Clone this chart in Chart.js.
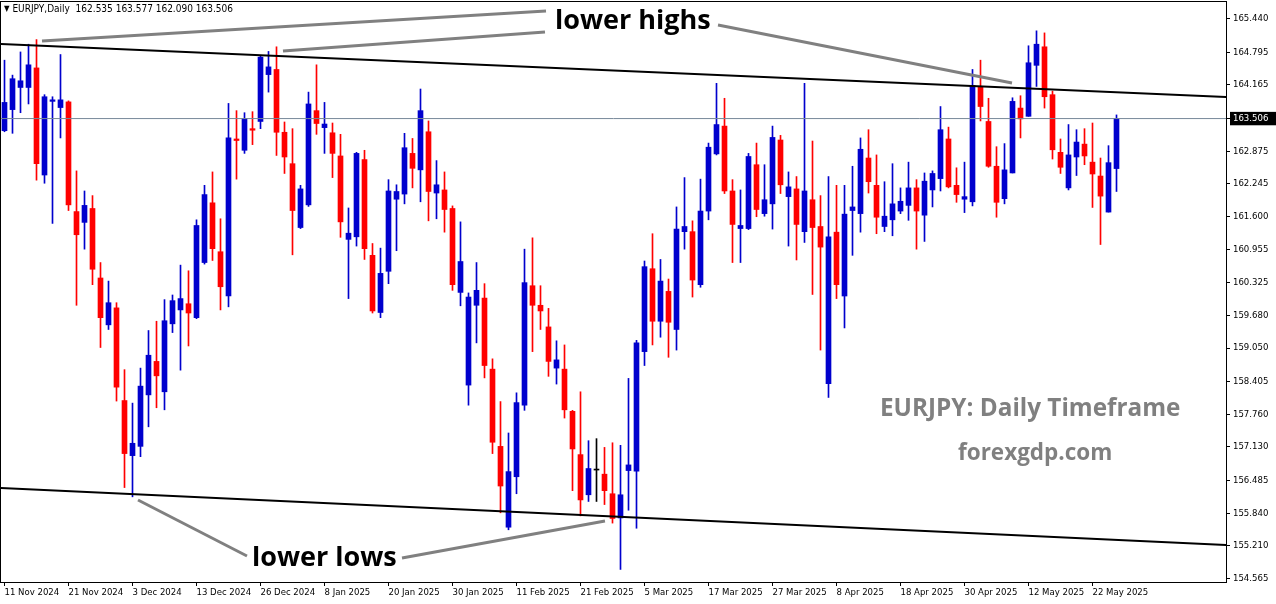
<!DOCTYPE html>
<html>
<head>
<meta charset="utf-8">
<title>EURJPY Daily</title>
<script src="https://cdn.jsdelivr.net/npm/chart.js@4.4.1/dist/chart.umd.min.js"></script>
<style>
  html, body { margin: 0; padding: 0; background: #fff; }
  #wrap { position: relative; width: 1276px; height: 604px; overflow: hidden; }
  #chart { position: absolute; left: 0; top: 0; }
  .note { position: absolute; white-space: nowrap; font-family: 'Open Sans', sans-serif; font-weight: 700; line-height: 1; }
  .black { color: #000; font-size: 27px; }
  .grey { color: #808080; }
  #header { position: absolute; left: 4px; top: 3px; white-space: pre; font: 10px 'DejaVu Sans Condensed', 'Liberation Sans', sans-serif; color: #000; }
  #header .tri { font-size: 8px; vertical-align: 1px; }
</style>
</head>
<body>
<div id="wrap">
  <canvas id="chart" width="1276" height="604"></canvas>
  <div id="header"><span class="tri">▼</span> EURJPY,Daily  162.535 163.577 162.090 163.506</div>
  <div class="note black" style="left:555px; top:5px;">lower highs</div>
  <div class="note black" style="left:252px; top:542px;">lower lows</div>
  <div class="note grey" style="left:880px; top:394.6px; font-size:24.3px;">EURJPY: Daily Timeframe</div>
  <div class="note grey" style="left:958px; top:441px; font-size:22.5px;">forexgdp.com</div>
</div>
<script>
// daily candles, 11 Nov 2024 .. 27 May 2025
const opens = [
  163.27, 163.68, 164.11, 164.11, 164.49, 162.41, 163.84, 163.72, 163.83, 161.70,
  161.49, 161.76, 160.41, 159.50, 159.83, 158.03, 156.96, 157.14, 158.14, 158.79,
  158.20, 159.52, 159.79, 159.91, 159.64, 160.71, 161.87, 160.92, 160.06, 163.11,
  162.89, 163.31, 163.45, 164.36, 164.46, 163.24, 162.63, 161.39, 161.83, 163.66,
  163.33, 163.23, 162.78, 161.16, 161.21, 162.71, 160.85, 159.74, 160.54, 161.94,
  162.04, 162.83, 162.51, 163.25, 162.06, 162.12, 161.76, 160.13, 158.33, 159.88,
  160.02, 158.64, 157.14, 155.57, 156.55, 157.94, 160.26, 159.88, 159.46, 158.66,
  158.64, 157.82, 156.98, 156.20, 156.68, 156.60, 156.22, 155.75, 156.67, 156.66,
  158.98, 160.59, 159.57, 160.15, 159.41, 161.31, 161.31, 160.28, 161.71, 162.82,
  163.36, 162.10, 161.37, 161.37, 162.61, 161.66, 161.85, 163.09, 161.99, 162.14,
  161.31, 161.93, 161.41, 158.36, 161.30, 160.06, 161.72, 161.66, 162.74, 162.21,
  161.41, 161.54, 161.71, 161.82, 162.16, 161.63, 162.12, 162.34, 163.11, 162.21,
  161.94, 161.89, 164.12, 163.45, 162.58, 161.95, 162.45, 163.71, 163.55, 164.54,
  164.90, 163.97, 162.85, 162.16, 162.76, 163.01, 162.66, 162.39, 161.69, 162.535
];
const highs = [
  164.64, 164.35, 164.80, 164.95, 165.04, 163.97, 163.93, 164.75, 163.85, 162.49,
  162.10, 162.01, 160.71, 160.35, 159.93, 158.63, 157.98, 158.66, 159.39, 159.57,
  159.99, 160.08, 160.66, 160.55, 161.54, 162.21, 162.47, 161.56, 163.80, 163.66,
  163.62, 163.64, 164.72, 164.81, 164.90, 163.44, 163.31, 162.21, 164.02, 164.55,
  163.82, 163.42, 163.20, 161.77, 162.85, 162.89, 161.08, 160.99, 162.32, 162.22,
  163.22, 163.12, 164.08, 163.46, 162.69, 162.47, 161.81, 161.50, 160.12, 160.71,
  160.30, 158.84, 158.01, 157.40, 158.18, 160.97, 161.19, 160.26, 159.82, 159.19,
  159.11, 157.84, 158.20, 157.25, 157.29, 157.12, 157.21, 157.16, 158.46, 159.20,
  160.74, 161.27, 160.77, 160.39, 161.79, 162.36, 161.52, 162.33, 163.03, 164.19,
  163.90, 162.32, 162.12, 162.83, 163.03, 162.61, 163.36, 163.18, 162.47, 162.38,
  164.19, 163.07, 162.01, 162.38, 162.21, 162.21, 162.58, 163.13, 163.29, 162.80,
  162.28, 162.63, 162.16, 162.66, 162.32, 162.45, 162.49, 163.74, 163.34, 162.55,
  162.66, 164.46, 164.64, 163.90, 162.96, 163.02, 163.91, 163.95, 164.92, 165.21,
  165.17, 164.04, 163.11, 163.39, 163.29, 163.31, 163.42, 162.74, 162.98, 163.577
];
const lows = [
  163.25, 163.22, 163.62, 163.79, 162.31, 162.25, 161.47, 163.13, 161.72, 159.88,
  160.97, 160.28, 159.06, 159.41, 158.02, 156.34, 156.16, 156.94, 157.52, 157.89,
  157.85, 159.35, 158.62, 159.09, 159.62, 160.68, 160.75, 159.79, 159.85, 162.33,
  162.83, 163.00, 163.31, 164.02, 162.79, 162.44, 160.86, 161.37, 161.80, 163.20,
  162.83, 162.36, 161.20, 160.01, 161.03, 160.77, 159.73, 159.64, 160.30, 160.94,
  161.85, 162.16, 161.89, 161.52, 161.56, 161.30, 160.17, 159.87, 157.94, 159.15,
  158.47, 157.00, 155.85, 155.52, 156.22, 157.84, 158.98, 159.41, 158.50, 158.35,
  157.69, 156.28, 155.79, 156.07, 156.07, 156.01, 155.65, 154.75, 155.90, 155.55,
  158.71, 159.11, 159.26, 158.87, 159.01, 160.97, 160.04, 160.23, 161.54, 162.80,
  162.05, 160.71, 160.71, 161.35, 161.60, 161.61, 161.36, 162.05, 161.03, 160.76,
  161.10, 160.09, 159.01, 158.09, 160.01, 159.44, 160.85, 161.30, 162.06, 161.27,
  161.31, 161.23, 161.66, 161.53, 160.97, 161.12, 161.79, 162.10, 162.16, 161.88,
  161.68, 161.81, 163.46, 162.56, 161.59, 161.85, 162.45, 163.13, 163.55, 164.13,
  163.71, 162.72, 162.44, 162.12, 162.40, 162.61, 161.78, 161.06, 161.69, 162.090
];
const closes = [
  163.82, 164.28, 164.24, 164.55, 162.63, 163.93, 163.87, 163.87, 161.83, 161.25,
  161.82, 160.58, 159.64, 159.93, 158.29, 157.00, 157.20, 158.31, 158.91, 158.51,
  159.58, 159.97, 160.01, 159.73, 161.43, 162.03, 160.98, 160.24, 163.13, 163.08,
  163.51, 163.28, 164.70, 164.51, 163.24, 162.76, 161.72, 162.14, 163.79, 163.41,
  163.40, 162.83, 161.50, 161.28, 162.83, 160.98, 159.77, 160.50, 162.10, 162.09,
  162.94, 162.54, 163.66, 162.09, 162.22, 161.74, 160.28, 160.73, 160.04, 160.17,
  158.71, 157.22, 156.37, 156.65, 157.99, 160.32, 159.88, 159.77, 158.79, 158.82,
  157.85, 157.09, 156.10, 156.71, 156.68, 156.28, 155.74, 156.20, 156.78, 159.15,
  160.63, 159.57, 160.35, 159.55, 161.36, 161.41, 160.37, 161.71, 162.95, 163.39,
  162.10, 161.45, 161.43, 162.77, 161.74, 161.93, 163.14, 162.22, 162.18, 161.45,
  162.10, 161.39, 161.01, 161.21, 160.28, 161.65, 161.79, 162.91, 162.28, 161.59,
  161.61, 161.85, 161.90, 162.16, 161.71, 162.29, 162.44, 163.29, 162.18, 162.03,
  161.99, 164.15, 163.74, 162.58, 161.88, 162.51, 163.84, 163.50, 164.59, 164.95,
  163.93, 162.90, 162.56, 162.80, 163.05, 162.78, 162.43, 162.00, 162.65, 163.506
];

// bottom axis: bar index of each date label
const xTickIndex = [0, 8, 16, 24, 32, 40, 48, 56, 64, 72, 80, 88, 96, 104, 112, 120, 128, 136];
const xTickLabels = ['11 Nov 2024', '21 Nov 2024', '3 Dec 2024', '13 Dec 2024', '26 Dec 2024', '8 Jan 2025',
  '20 Jan 2025', '30 Jan 2025', '11 Feb 2025', '21 Feb 2025', '5 Mar 2025', '17 Mar 2025',
  '27 Mar 2025', '8 Apr 2025', '18 Apr 2025', '30 Apr 2025', '12 May 2025', '22 May 2025'];
const lastPrice = 163.506;
const yTickValues = [165.440, 164.795, 164.165, lastPrice, 162.875, 162.245, 161.600, 160.955, 160.325,
  159.680, 159.050, 158.405, 157.760, 157.130, 156.485, 155.840, 155.210, 154.565];

// drawn objects (bar index, price)
const upperTrend = [[-0.56, 164.954], [152.69, 163.925]];
const lowerTrend = [[-0.56, 156.331], [152.69, 155.224]];
const highsPointerA = [[4.69, 165.013], [67.69, 165.595]];
const highsPointerB = [[34.81, 164.819], [67.56, 165.188]];
const highsPointerC = [[89.19, 165.323], [125.94, 164.197]];
const lowsPointerD = [[16.69, 156.098], [30.31, 155.011]];
const lowsPointerE = [[49.69, 154.972], [75.06, 155.691]];

(function(){
    const bullColor = '#0000cd';
    const bearColor = '#ff0000';
    const dojiColor = '#000000';
    const axisFont = { family: "'DejaVu Sans Condensed', 'Liberation Sans', sans-serif", size: 9.5 };

    const candleColors = opens.map(function(o, i) {
        if (closes[i] > o) return bullColor;
        if (closes[i] < o) return bearColor;
        return dojiColor;
    });
    const bodies = opens.map((o, i) => ({ x: i, y: [o, closes[i]] }));
    const wicks = opens.map((o, i) => ({ x: i, y: [lows[i], highs[i]] }));

    function toPoints(pairs) {
        return pairs.map(p => ({ x: p[0], y: p[1] }));
    }

    function lineSet(pairs, color, width) {
        return {
            type: 'line',
            data: toPoints(pairs),
            borderColor: color,
            borderWidth: width,
            pointRadius: 0,
            tension: 0,
            fill: false,
            order: 0
        };
    }

    const framePlugin = {
        id: 'frame',
        afterDraw(chart) {
            const { ctx, chartArea: a } = chart;
            ctx.save();
            ctx.strokeStyle = '#000';
            ctx.lineWidth = 1;
            ctx.strokeRect(a.left - 0.5, a.top - 0.5, a.right - a.left + 1, a.bottom - a.top + 1);
            ctx.restore();
        }
    };

    const xMin = -0.4375;

    new Chart(document.getElementById('chart').getContext('2d'), {
        type: 'bar',
        data: {
            datasets: [
                lineSet([[xMin, lastPrice], [152.69, lastPrice]], '#778899', 1),
                lineSet(upperTrend, '#000000', 2),
                lineSet(lowerTrend, '#000000', 2),
                lineSet(highsPointerA, '#808080', 3),
                lineSet(highsPointerB, '#808080', 3),
                lineSet(highsPointerC, '#808080', 3),
                lineSet(lowsPointerD, '#808080', 3),
                lineSet(lowsPointerE, '#808080', 3),
                {
                    type: 'bar',
                    data: bodies,
                    backgroundColor: candleColors,
                    borderWidth: 0,
                    barThickness: 5,
                    minBarLength: 1,
                    grouped: false,
                    order: 1
                },
                {
                    type: 'bar',
                    data: wicks,
                    backgroundColor: candleColors,
                    borderWidth: 0,
                    barThickness: 1,
                    grouped: false,
                    order: 2
                }
            ]
        },
        options: {
            responsive: false,
            animation: false,
            devicePixelRatio: 1,
            layout: {
                padding: { top: 2, left: 1, right: 0, bottom: 0 }
            },
            plugins: {
                legend: { display: false },
                tooltip: { enabled: false }
            },
            scales: {
                x: {
                    type: 'linear',
                    position: 'bottom',
                    offset: false,
                    min: xMin,
                    max: xMin + 1225 / 8,
                    afterBuildTicks: function(scale) {
                        scale.ticks = xTickIndex.map(v => ({ value: v }));
                    },
                    afterFit: function(scale) {
                        scale.height = 22;
                        scale.paddingLeft = 0;
                        scale.paddingRight = 0;
                    },
                    border: { color: '#000' },
                    grid: {
                        drawOnChartArea: false,
                        drawTicks: true,
                        tickLength: 4,
                        color: '#000',
                        offset: false
                    },
                    ticks: {
                        autoSkip: false,
                        maxRotation: 0,
                        minRotation: 0,
                        align: 'start',
                        padding: 1,
                        color: '#000',
                        font: axisFont,
                        callback: function(value) {
                            const k = xTickIndex.indexOf(value);
                            return k >= 0 ? xTickLabels[k] : '';
                        }
                    }
                },
                y: {
                    type: 'linear',
                    position: 'right',
                    min: 154.506,
                    max: 165.770,
                    afterBuildTicks: function(scale) {
                        scale.ticks = yTickValues.map(v => ({ value: v }));
                    },
                    afterFit: function(scale) {
                        scale.width = 50;
                        scale.paddingTop = 0;
                        scale.paddingBottom = 0;
                    },
                    border: { color: '#000' },
                    grid: {
                        drawOnChartArea: false,
                        drawTicks: true,
                        tickLength: 4,
                        color: '#000'
                    },
                    ticks: {
                        autoSkip: false,
                        padding: 3,
                        font: axisFont,
                        color: function(context) {
                            return context.tick && context.tick.value === lastPrice ? '#ffffff' : '#000000';
                        },
                        showLabelBackdrop: function(context) {
                            return !!(context.tick && context.tick.value === lastPrice);
                        },
                        backdropColor: '#000000',
                        backdropPadding: { top: 1, bottom: 1, left: 3, right: 8 },
                        callback: function(value) {
                            return Number(value).toFixed(3);
                        }
                    }
                }
            }
        },
        plugins: [framePlugin]
    });
})();
</script>
</body>
</html>
